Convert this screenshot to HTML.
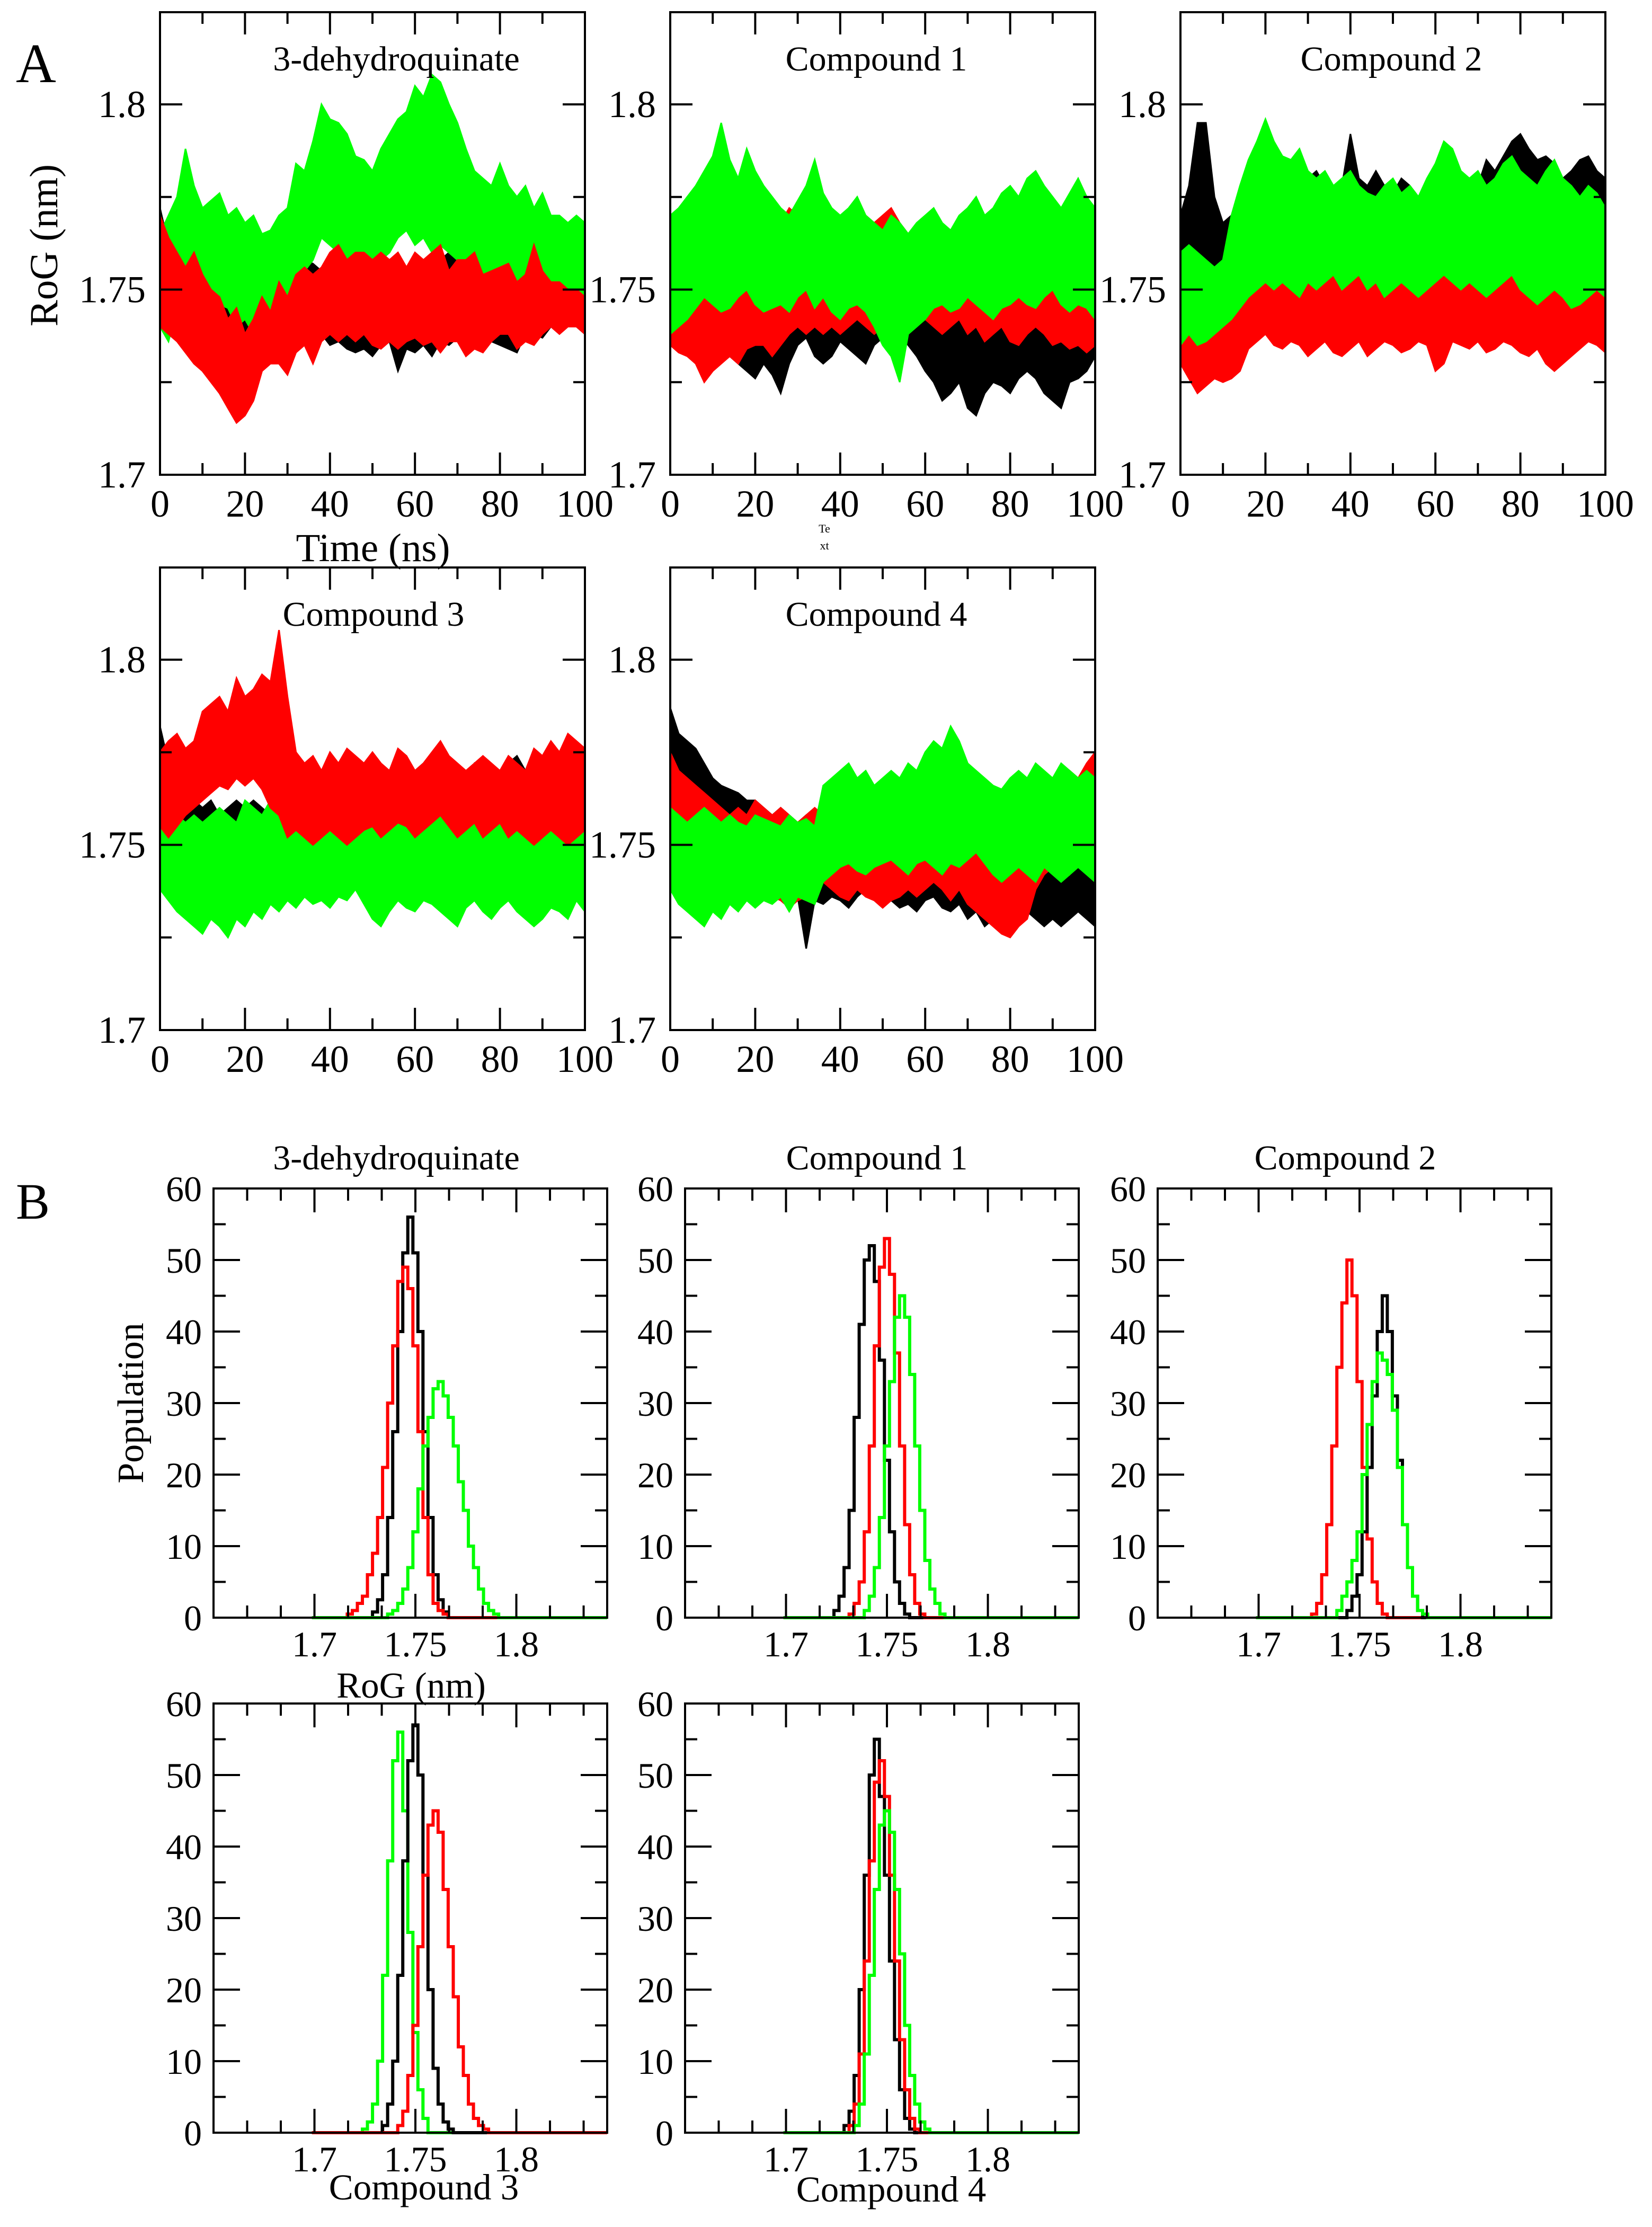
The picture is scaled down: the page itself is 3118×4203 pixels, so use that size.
<!DOCTYPE html>
<html><head><meta charset="utf-8"><style>
html,body{margin:0;padding:0;background:#fff;}
svg{display:block;font-family:"Liberation Serif",serif;}
</style></head><body>
<svg id="fig" xmlns="http://www.w3.org/2000/svg" width="3118" height="4203" viewBox="0 0 3118 4203">
<rect x="0" y="0" width="3118" height="4203" fill="#fff"/>
<text x="30" y="155" font-size="105">A</text>
<text x="30" y="2300" font-size="96">B</text>
<text x="0" y="0" font-size="75" text-anchor="middle" transform="translate(108,463) rotate(-90)">RoG (nm)</text>
<text x="704" y="1059" font-size="75" text-anchor="middle">Time (ns)</text>
<text x="1556" y="1005" font-size="22" text-anchor="middle">Te</text>
<text x="1556" y="1037" font-size="22" text-anchor="middle">xt</text>
<text x="0" y="0" font-size="70" text-anchor="middle" transform="translate(270,2648) rotate(-90)">Population</text>
<text x="776" y="3204" font-size="69" text-anchor="middle">RoG (nm)</text>
<text x="800" y="4151" font-size="69" text-anchor="middle">Compound 3</text>
<text x="1682" y="4155" font-size="69" text-anchor="middle">Compound 4</text>
</svg>
<script>
// ---------- Time-series data (RoG, nm) sampled every 2 ns: upper / lower envelope ----------
const timeNs = [0,2,4,6,8,10,12,14,16,18,20,22,24,26,28,30,32,34,36,38,40,42,44,46,48,50,52,54,56,58,60,62,64,66,68,70,72,74,76,78,80,82,84,86,88,90,92,94,96,98,100];
const xTicksA = [0,20,40,60,80,100];
const yTicksA = ["1.7","1.75","1.8"];
const seriesColors = ["#000000","#ff0000","#00ff00"];

const a1BlackHi=[1.772,1.762,1.760,1.758,1.757,1.760,1.758,1.756,1.764,1.766,1.762,1.762,1.758,1.760,1.758,1.757,1.756,1.758,1.757,1.755,1.756,1.755,1.752,1.754,1.754,1.752,1.753,1.750,1.756,1.753,1.755,1.756,1.757,1.758,1.760,1.762,1.758,1.756,1.760,1.757,1.755,1.752,1.753,1.754,1.750,1.752,1.750,1.749,1.752,1.750,1.748];
const a1BlackLo=[1.742,1.740,1.742,1.745,1.742,1.740,1.742,1.743,1.740,1.738,1.736,1.738,1.742,1.740,1.738,1.740,1.737,1.738,1.736,1.738,1.735,1.736,1.734,1.733,1.734,1.732,1.735,1.736,1.728,1.734,1.733,1.735,1.732,1.736,1.735,1.737,1.733,1.734,1.735,1.736,1.735,1.734,1.733,1.738,1.738,1.737,1.740,1.739,1.742,1.740,1.738];
const a1RedHi=[1.770,1.764,1.760,1.756,1.760,1.754,1.750,1.748,1.742,1.745,1.738,1.742,1.748,1.744,1.752,1.748,1.754,1.756,1.754,1.756,1.760,1.762,1.758,1.760,1.760,1.758,1.760,1.758,1.760,1.756,1.760,1.758,1.760,1.762,1.755,1.758,1.758,1.760,1.754,1.755,1.756,1.757,1.752,1.754,1.762,1.755,1.752,1.752,1.750,1.750,1.748];
const a1RedLo=[1.740,1.738,1.736,1.733,1.730,1.728,1.725,1.722,1.718,1.714,1.716,1.720,1.728,1.730,1.730,1.727,1.733,1.735,1.730,1.736,1.738,1.736,1.738,1.736,1.738,1.735,1.734,1.736,1.734,1.736,1.737,1.735,1.736,1.733,1.736,1.736,1.732,1.734,1.733,1.736,1.738,1.738,1.734,1.736,1.735,1.738,1.740,1.738,1.740,1.740,1.738];
const a1GreenHi=[1.765,1.770,1.775,1.788,1.778,1.772,1.774,1.776,1.770,1.772,1.768,1.770,1.765,1.766,1.770,1.772,1.784,1.782,1.790,1.800,1.796,1.795,1.792,1.786,1.785,1.782,1.788,1.792,1.796,1.798,1.805,1.802,1.808,1.806,1.800,1.795,1.788,1.782,1.780,1.778,1.784,1.778,1.775,1.778,1.772,1.776,1.770,1.770,1.768,1.770,1.768];
const a1GreenLo=[1.740,1.736,1.745,1.748,1.748,1.744,1.742,1.746,1.745,1.740,1.742,1.738,1.742,1.737,1.740,1.748,1.752,1.755,1.758,1.764,1.762,1.760,1.758,1.756,1.754,1.756,1.758,1.760,1.764,1.766,1.762,1.764,1.760,1.762,1.760,1.758,1.755,1.752,1.754,1.752,1.750,1.748,1.748,1.750,1.748,1.750,1.748,1.746,1.748,1.748,1.746];

const a2BlackHi=[1.768,1.760,1.755,1.758,1.760,1.758,1.756,1.755,1.752,1.754,1.754,1.752,1.750,1.752,1.748,1.748,1.750,1.752,1.752,1.748,1.750,1.754,1.752,1.750,1.752,1.755,1.758,1.755,1.752,1.750,1.752,1.750,1.748,1.748,1.746,1.745,1.748,1.746,1.745,1.748,1.745,1.748,1.744,1.745,1.748,1.746,1.745,1.748,1.746,1.744,1.745];
const a2BlackLo=[1.735,1.735,1.738,1.736,1.735,1.735,1.733,1.732,1.730,1.728,1.726,1.730,1.727,1.722,1.730,1.735,1.737,1.732,1.730,1.732,1.736,1.734,1.732,1.730,1.735,1.737,1.740,1.738,1.735,1.732,1.728,1.725,1.720,1.722,1.725,1.718,1.716,1.722,1.725,1.724,1.722,1.726,1.728,1.726,1.722,1.720,1.718,1.725,1.726,1.728,1.732];
const a2RedHi=[1.762,1.758,1.756,1.760,1.758,1.765,1.762,1.760,1.758,1.756,1.758,1.762,1.765,1.768,1.772,1.770,1.768,1.765,1.766,1.768,1.764,1.762,1.765,1.770,1.768,1.770,1.772,1.768,1.765,1.762,1.760,1.758,1.760,1.758,1.762,1.760,1.760,1.758,1.762,1.764,1.760,1.762,1.758,1.760,1.765,1.760,1.758,1.760,1.758,1.756,1.755];
const a2RedLo=[1.735,1.733,1.732,1.730,1.725,1.728,1.730,1.732,1.730,1.734,1.735,1.735,1.732,1.735,1.738,1.740,1.738,1.740,1.738,1.740,1.738,1.740,1.742,1.740,1.738,1.740,1.748,1.750,1.748,1.745,1.742,1.740,1.738,1.740,1.742,1.738,1.740,1.736,1.738,1.740,1.736,1.735,1.738,1.740,1.738,1.735,1.736,1.734,1.735,1.733,1.735];
const a2GreenHi=[1.770,1.772,1.775,1.778,1.782,1.786,1.795,1.785,1.780,1.788,1.782,1.778,1.775,1.772,1.770,1.774,1.778,1.785,1.776,1.772,1.770,1.772,1.775,1.770,1.768,1.766,1.770,1.768,1.765,1.768,1.770,1.772,1.768,1.766,1.770,1.772,1.775,1.770,1.772,1.776,1.778,1.775,1.780,1.782,1.778,1.775,1.772,1.776,1.780,1.775,1.772];
const a2GreenLo=[1.738,1.740,1.742,1.745,1.748,1.746,1.744,1.745,1.748,1.750,1.746,1.744,1.745,1.746,1.744,1.748,1.750,1.745,1.748,1.744,1.742,1.745,1.746,1.744,1.740,1.735,1.732,1.725,1.738,1.740,1.742,1.745,1.746,1.744,1.745,1.748,1.746,1.744,1.742,1.745,1.746,1.748,1.746,1.745,1.748,1.750,1.746,1.744,1.746,1.745,1.742];

const a3BlackHi=[1.770,1.778,1.795,1.795,1.775,1.768,1.770,1.762,1.768,1.770,1.772,1.780,1.778,1.775,1.776,1.780,1.782,1.778,1.776,1.778,1.792,1.780,1.778,1.782,1.778,1.776,1.780,1.778,1.775,1.778,1.776,1.780,1.782,1.778,1.780,1.778,1.785,1.782,1.786,1.790,1.792,1.788,1.785,1.786,1.784,1.780,1.782,1.785,1.786,1.782,1.780];
const a3BlackLo=[1.748,1.752,1.760,1.755,1.752,1.750,1.748,1.745,1.742,1.740,1.745,1.748,1.750,1.752,1.750,1.754,1.752,1.755,1.756,1.754,1.758,1.756,1.755,1.754,1.752,1.755,1.756,1.754,1.752,1.755,1.756,1.758,1.755,1.754,1.756,1.758,1.760,1.758,1.762,1.764,1.762,1.758,1.756,1.760,1.762,1.758,1.760,1.762,1.764,1.760,1.758];
const a3RedHi=[1.748,1.745,1.742,1.745,1.748,1.746,1.748,1.752,1.755,1.758,1.760,1.762,1.758,1.760,1.758,1.756,1.758,1.760,1.758,1.756,1.755,1.758,1.757,1.760,1.758,1.756,1.755,1.758,1.760,1.758,1.762,1.765,1.768,1.760,1.758,1.756,1.758,1.760,1.757,1.758,1.756,1.758,1.756,1.754,1.755,1.760,1.765,1.760,1.758,1.756,1.752];
const a3RedLo=[1.730,1.726,1.722,1.724,1.726,1.725,1.726,1.728,1.734,1.736,1.738,1.735,1.734,1.736,1.735,1.732,1.734,1.736,1.733,1.732,1.734,1.736,1.732,1.734,1.736,1.735,1.733,1.734,1.736,1.735,1.728,1.730,1.736,1.735,1.734,1.736,1.733,1.734,1.736,1.735,1.733,1.732,1.734,1.730,1.728,1.730,1.732,1.734,1.736,1.735,1.733];
const a3GreenHi=[1.760,1.762,1.760,1.758,1.756,1.758,1.770,1.778,1.785,1.790,1.796,1.790,1.786,1.785,1.788,1.782,1.780,1.782,1.778,1.780,1.782,1.778,1.776,1.775,1.778,1.780,1.776,1.778,1.775,1.780,1.784,1.790,1.788,1.782,1.780,1.782,1.778,1.780,1.784,1.786,1.782,1.780,1.778,1.782,1.785,1.780,1.778,1.775,1.778,1.776,1.772];
const a3GreenLo=[1.735,1.738,1.735,1.736,1.738,1.740,1.742,1.745,1.748,1.750,1.752,1.750,1.752,1.750,1.748,1.752,1.750,1.752,1.754,1.750,1.752,1.754,1.750,1.752,1.748,1.750,1.752,1.750,1.748,1.750,1.752,1.754,1.752,1.750,1.752,1.750,1.748,1.750,1.752,1.754,1.750,1.748,1.746,1.748,1.750,1.748,1.745,1.746,1.748,1.750,1.748];

const a4BlackHi=[1.782,1.772,1.768,1.765,1.762,1.760,1.762,1.758,1.760,1.762,1.760,1.762,1.760,1.758,1.762,1.760,1.758,1.760,1.762,1.764,1.762,1.760,1.765,1.768,1.766,1.765,1.768,1.770,1.766,1.768,1.770,1.772,1.768,1.770,1.772,1.770,1.768,1.772,1.770,1.768,1.770,1.772,1.774,1.770,1.768,1.772,1.770,1.772,1.774,1.772,1.770];
const a4BlackLo=[1.750,1.752,1.748,1.746,1.745,1.744,1.742,1.745,1.744,1.742,1.745,1.748,1.750,1.746,1.745,1.742,1.740,1.742,1.744,1.742,1.740,1.742,1.744,1.742,1.745,1.748,1.746,1.744,1.745,1.748,1.750,1.752,1.748,1.746,1.748,1.750,1.752,1.748,1.750,1.752,1.750,1.748,1.750,1.752,1.754,1.750,1.752,1.750,1.752,1.754,1.750];
const a4RedHi=[1.775,1.778,1.780,1.776,1.778,1.786,1.788,1.790,1.786,1.795,1.790,1.792,1.796,1.794,1.808,1.790,1.775,1.772,1.774,1.770,1.775,1.772,1.776,1.774,1.772,1.775,1.772,1.770,1.776,1.774,1.770,1.772,1.775,1.778,1.774,1.772,1.770,1.772,1.774,1.772,1.770,1.774,1.772,1.770,1.776,1.774,1.778,1.775,1.780,1.778,1.776];
const a4RedLo=[1.755,1.752,1.755,1.758,1.760,1.762,1.764,1.766,1.765,1.768,1.766,1.768,1.765,1.760,1.758,1.752,1.754,1.752,1.750,1.752,1.754,1.752,1.750,1.752,1.754,1.755,1.752,1.754,1.756,1.755,1.752,1.754,1.756,1.758,1.755,1.752,1.754,1.756,1.752,1.754,1.756,1.752,1.754,1.752,1.750,1.752,1.754,1.752,1.750,1.752,1.754];
const a4GreenHi=[1.762,1.760,1.758,1.756,1.758,1.756,1.758,1.760,1.758,1.756,1.762,1.760,1.758,1.762,1.760,1.758,1.756,1.755,1.758,1.756,1.757,1.755,1.758,1.760,1.758,1.762,1.760,1.758,1.762,1.760,1.758,1.756,1.758,1.760,1.757,1.756,1.758,1.760,1.762,1.758,1.760,1.762,1.758,1.756,1.758,1.760,1.758,1.756,1.758,1.757,1.756];
const a4GreenLo=[1.738,1.735,1.732,1.730,1.728,1.726,1.730,1.728,1.725,1.730,1.728,1.732,1.730,1.734,1.732,1.735,1.733,1.736,1.734,1.735,1.733,1.736,1.735,1.738,1.734,1.730,1.728,1.732,1.735,1.733,1.732,1.735,1.734,1.732,1.730,1.728,1.733,1.735,1.732,1.730,1.733,1.735,1.732,1.730,1.728,1.730,1.733,1.732,1.730,1.735,1.732];

const a5BlackHi=[1.787,1.780,1.778,1.776,1.772,1.768,1.766,1.765,1.764,1.762,1.762,1.760,1.758,1.760,1.758,1.756,1.758,1.754,1.752,1.750,1.752,1.750,1.752,1.750,1.752,1.748,1.750,1.752,1.750,1.748,1.750,1.752,1.748,1.750,1.755,1.752,1.750,1.748,1.752,1.750,1.748,1.746,1.748,1.750,1.746,1.745,1.744,1.746,1.745,1.742,1.744];
const a5BlackLo=[1.760,1.762,1.758,1.755,1.752,1.750,1.748,1.746,1.745,1.744,1.742,1.740,1.740,1.738,1.735,1.736,1.722,1.735,1.734,1.736,1.735,1.733,1.736,1.738,1.736,1.734,1.735,1.733,1.734,1.732,1.735,1.736,1.733,1.732,1.734,1.730,1.732,1.728,1.730,1.732,1.733,1.734,1.732,1.730,1.728,1.730,1.728,1.730,1.732,1.730,1.728];
const a5RedHi=[1.775,1.770,1.768,1.766,1.764,1.762,1.760,1.758,1.760,1.758,1.762,1.760,1.758,1.760,1.758,1.756,1.758,1.760,1.758,1.762,1.760,1.758,1.760,1.758,1.760,1.758,1.756,1.758,1.760,1.758,1.756,1.758,1.760,1.758,1.762,1.764,1.760,1.758,1.756,1.755,1.752,1.756,1.760,1.758,1.765,1.768,1.766,1.770,1.768,1.772,1.775];
const a5RedLo=[1.748,1.745,1.746,1.744,1.742,1.740,1.738,1.740,1.738,1.736,1.735,1.738,1.736,1.735,1.733,1.735,1.736,1.738,1.740,1.738,1.736,1.735,1.738,1.736,1.735,1.733,1.735,1.736,1.738,1.736,1.738,1.740,1.738,1.735,1.738,1.734,1.732,1.730,1.728,1.726,1.725,1.728,1.730,1.738,1.742,1.744,1.745,1.742,1.745,1.746,1.748];
const a5GreenHi=[1.760,1.758,1.756,1.758,1.760,1.758,1.756,1.758,1.756,1.755,1.758,1.757,1.756,1.755,1.758,1.756,1.757,1.755,1.766,1.768,1.770,1.772,1.768,1.770,1.766,1.768,1.770,1.768,1.772,1.770,1.775,1.778,1.776,1.782,1.778,1.772,1.770,1.768,1.766,1.765,1.768,1.770,1.768,1.772,1.770,1.768,1.772,1.770,1.768,1.770,1.768];
const a5GreenLo=[1.738,1.734,1.732,1.730,1.728,1.732,1.730,1.734,1.732,1.735,1.733,1.735,1.734,1.736,1.732,1.736,1.735,1.734,1.740,1.742,1.744,1.745,1.743,1.742,1.744,1.745,1.746,1.744,1.742,1.745,1.746,1.744,1.742,1.745,1.744,1.746,1.748,1.745,1.742,1.740,1.742,1.744,1.742,1.740,1.744,1.742,1.740,1.742,1.744,1.742,1.740];

// ---------- Histogram data: bin i covers RoG centre binStart + i*binWidth ----------
const binStart = 1.700;
const binWidth = 0.0025;
const xTicksB = ["1.7","1.75","1.8"];
const yTicksB = [0,10,20,30,40,50,60];
const b1Black=[0,0,0,0,0,0,0,0,0,0,0,0,0.8,2.5,6,14,26,40,51,56,51,40,26,14,6,2.5,0.8,0,0,0,0,0,0,0,0,0,0,0,0,0,0,0,0,0,0];
const b1Red=[0,0,0,0,0,0,0,0.5,1,2,3,6,9,14,21,30,38,47,49,46,38,26,14,6,2,1,0.5,0,0,0,0,0,0,0,0,0,0,0,0,0,0,0,0,0,0];
const b1Green=[0,0,0,0,0,0,0,0,0,0,0,0,0,0,0,0.5,1,2,4,7,12,18,24,28,32,33,31,28,24,19,15,10,7,4,2,1,0.5,0,0,0,0,0,0,0,0];
const b2Black=[0,0,0,0,0,0,0,0,0,0,1,3,7,15,28,41,50,52,47,36,22,12,5,2,0.5,0,0,0,0,0,0,0,0,0,0,0,0,0,0,0,0,0,0,0,0];
const b2Red=[0,0,0,0,0,0,0,0,0,0,0,0,0,0.5,2,5,12,24,38,49,53,48,37,24,13,6,2,0.5,0,0,0,0,0,0,0,0,0,0,0,0,0,0,0,0,0];
const b2Green=[0,0,0,0,0,0,0,0,0,0,0,0,0,0,0,0,1,3,7,14,24,33,42,45,42,34,24,15,8,4,2,0.5,0,0,0,0,0,0,0,0,0,0,0,0,0];
const b3Red=[0,0,0,0,0,0,0,0,0,0,0,0.5,2,6,13,24,35,44,50,45,33,21,11,5,2,0.5,0,0,0,0,0,0,0,0,0,0,0,0,0,0,0,0,0,0,0];
const b3Black=[0,0,0,0,0,0,0,0,0,0,0,0,0,0,0,0,0,0,1,3,6,12,21,31,40,45,40,31,22,13,7,3,1,0,0,0,0,0,0,0,0,0,0,0,0];
const b3Green=[0,0,0,0,0,0,0,0,0,0,0,0,0,0,0,0,1,3,5,8,12,20,27,33,37,36,34,29,21,13,7,3,1,0.5,0,0,0,0,0,0,0,0,0,0,0];
const b4Green=[0,0,0,0,0,0,0,0,0,0,0.5,1.5,4,10,22,38,52,56,45,28,14,6,2,0,0,0,0,0,0,0,0,0,0,0,0,0,0,0,0,0,0,0,0,0,0];
const b4Black=[0,0,0,0,0,0,0,0,0,0,0,0,0,0,1,4,10,22,38,52,57,50,36,20,9,4,1.5,0.5,0,0,0,0,0,0,0,0,0,0,0,0,0,0,0,0,0];
const b4Red=[0,0,0,0,0,0,0,0,0,0,0,0,0,0,0,0,0,1,3,8,15,26,36,43,45,42,34,26,19,12,8,4,2,1,0.5,0,0,0,0,0,0,0,0,0,0];
const b5Black=[0,0,0,0,0,0,0,0,0,0,0,0,1,3,8,20,36,50,55,47,36,24,13,6,2,0.5,0,0,0,0,0,0,0,0,0,0,0,0,0,0,0,0,0,0,0];
const b5Red=[0,0,0,0,0,0,0,0,0,0,0,0,0,1,4,11,24,38,49,52,47,36,24,13,6,2,0.5,0,0,0,0,0,0,0,0,0,0,0,0,0,0,0,0,0,0];
const b5Green=[0,0,0,0,0,0,0,0,0,0,0,0,0,0,1,4,11,22,34,43,45,42,34,25,15,8,4,1.5,0.5,0,0,0,0,0,0,0,0,0,0,0,0,0,0,0,0];

const NS="http://www.w3.org/2000/svg";
const svg=document.getElementById('fig');
function mk(tag,attrs,parent){const e=document.createElementNS(NS,tag);for(const k in attrs)e.setAttribute(k,attrs[k]);(parent||svg).appendChild(e);return e;}

// ---------- Panel A ----------
const panelsA=[
 {name:'3-dehydroquinate',x:302,y:23,tx:748,s:[[a1BlackHi,a1BlackLo,0],[a1GreenHi,a1GreenLo,2],[a1RedHi,a1RedLo,1]]},
 {name:'Compound 1',x:1265,y:23,tx:1654,s:[[a2BlackHi,a2BlackLo,0],[a2RedHi,a2RedLo,1],[a2GreenHi,a2GreenLo,2]]},
 {name:'Compound 2',x:2228,y:23,tx:2626,s:[[a3BlackHi,a3BlackLo,0],[a3RedHi,a3RedLo,1],[a3GreenHi,a3GreenLo,2]]},
 {name:'Compound 3',x:302,y:1071,tx:705,s:[[a4BlackHi,a4BlackLo,0],[a4GreenHi,a4GreenLo,2],[a4RedHi,a4RedLo,1]]},
 {name:'Compound 4',x:1265,y:1071,tx:1654,s:[[a5BlackHi,a5BlackLo,0],[a5RedHi,a5RedLo,1],[a5GreenHi,a5GreenLo,2]]}
];
const AW=802, AH=873, AY0=1.7, AY1=1.7+AH/699*0.1;
panelsA.forEach((p,pi)=>{
  const g=mk('g',{});
  
  
  const sx=v=>p.x+v/100*AW, sy=v=>p.y+AH-(v-AY0)/(AY1-AY0)*AH;
  const cid='clipA'+pi;
  const cp=mk('clipPath',{id:cid},g); mk('rect',{x:p.x,y:p.y,width:AW,height:AH},cp);
  const names=['black','red','green'];
  p.s.forEach(trip=>{
    const hi=trip[0], lo=trip[1], ci=trip[2];
    let pts=[];
    timeNs.forEach((t,i)=>pts.push(sx(t).toFixed(1)+','+sy(hi[i]).toFixed(1)));
    for(let i=timeNs.length-1;i>=0;i--) pts.push(sx(timeNs[i]).toFixed(1)+','+sy(lo[i]).toFixed(1));
    const poly=mk('polygon',{points:pts.join(' '),fill:seriesColors[ci],stroke:seriesColors[ci],'stroke-width':3,'stroke-linejoin':'miter','clip-path':'url(#'+cid+')'},g);
    
    
  });
  mk('rect',{x:p.x,y:p.y,width:AW,height:AH,fill:'none',stroke:'#000','stroke-width':4},g);
  for(let t=0;t<=100;t+=10){
    const L=(t%20===0)?42:22, X=sx(t);
    mk('line',{x1:X,y1:p.y+AH,x2:X,y2:p.y+AH-L,stroke:'#000','stroke-width':4},g);
    mk('line',{x1:X,y1:p.y,x2:X,y2:p.y+L,stroke:'#000','stroke-width':4},g);
  }
  [1.725,1.75,1.775,1.8].forEach(v=>{
    const L=(Math.abs(v-1.75)<1e-9||Math.abs(v-1.8)<1e-9)?42:22, Y=sy(v);
    mk('line',{x1:p.x,y1:Y,x2:p.x+L,y2:Y,stroke:'#000','stroke-width':4},g);
    mk('line',{x1:p.x+AW,y1:Y,x2:p.x+AW-L,y2:Y,stroke:'#000','stroke-width':4},g);
  });
  xTicksA.forEach(t=>{
    const e=mk('text',{x:sx(t),y:p.y+AH+79,'font-size':72,'text-anchor':'middle'},g);
    
    
    e.textContent=t;
  });
  yTicksA.forEach(t=>{
    const e=mk('text',{x:p.x-27,y:sy(parseFloat(t))+24,'font-size':72,'text-anchor':'end'},g);
    
    
    e.textContent=t;
  });
  const ti=mk('text',{x:p.tx,y:p.y+110,'font-size':66,'text-anchor':'middle'},g);
  
  
  ti.textContent=p.name;
});

// ---------- Panel B ----------
const panelsB=[
 {name:'3-dehydroquinate',x:403,y:2243,tx:748,s:[[b1Black,0],[b1Red,1],[b1Green,2]]},
 {name:'Compound 1',x:1293,y:2243,tx:1655,s:[[b2Black,0],[b2Red,1],[b2Green,2]]},
 {name:'Compound 2',x:2185,y:2243,tx:2539,s:[[b3Red,1],[b3Black,0],[b3Green,2]]},
 {name:'',x:403,y:3215,tx:0,s:[[b4Green,2],[b4Black,0],[b4Red,1]]},
 {name:'',x:1293,y:3215,tx:0,s:[[b5Black,0],[b5Red,1],[b5Green,2]]}
];
const BW=743, BH=810, BX0=1.65, BX1=1.845;
panelsB.forEach((p,pi)=>{
  const g=mk('g',{});
  
  
  const sx=v=>p.x+(v-BX0)/(BX1-BX0)*BW, sy=v=>p.y+BH-v/60*BH;
  const names=['black','red','green'];
  p.s.forEach(pair=>{
    const arr=pair[0], ci=pair[1];
    let d='M'+sx(binStart-binWidth/2).toFixed(1)+','+sy(0).toFixed(1);
    arr.forEach((v,i)=>{
      const c=binStart+i*binWidth;
      d+=' L'+sx(c-binWidth/2).toFixed(1)+','+sy(v).toFixed(1)+' L'+sx(c+binWidth/2).toFixed(1)+','+sy(v).toFixed(1);
    });
    d+=' L'+(p.x+BW)+','+sy(0).toFixed(1);
    const path=mk('path',{d:d,fill:'none',stroke:seriesColors[ci],'stroke-width':6,'stroke-linejoin':'miter'},g);
    
    
  });
  mk('rect',{x:p.x,y:p.y,width:BW,height:BH,fill:'none',stroke:'#000','stroke-width':4},g);
  for(let k=0;k<=11;k++){
    const v=BX0+k*0.05/3, X=sx(v), L=(k%3===0&&k>0)?45:23;
    if(X>p.x+BW-2||k===0) continue;
    mk('line',{x1:X,y1:p.y+BH,x2:X,y2:p.y+BH-L,stroke:'#000','stroke-width':4},g);
    mk('line',{x1:X,y1:p.y,x2:X,y2:p.y+L,stroke:'#000','stroke-width':4},g);
  }
  for(let v=5;v<60;v+=5){
    const L=(v%10===0)?50:23, Y=sy(v);
    mk('line',{x1:p.x,y1:Y,x2:p.x+L,y2:Y,stroke:'#000','stroke-width':4},g);
    mk('line',{x1:p.x+BW,y1:Y,x2:p.x+BW-L,y2:Y,stroke:'#000','stroke-width':4},g);
  }
  xTicksB.forEach(t=>{
    const e=mk('text',{x:sx(parseFloat(t)),y:p.y+BH+73,'font-size':68,'text-anchor':'middle'},g);
    
    
    e.textContent=t;
  });
  yTicksB.forEach(t=>{
    const e=mk('text',{x:p.x-22,y:sy(t)+24,'font-size':68,'text-anchor':'end'},g);
    
    
    e.textContent=t;
  });
  if(p.name){
    const ti=mk('text',{x:p.tx,y:p.y-36,'font-size':66,'text-anchor':'middle'},g);
    
    
    ti.textContent=p.name;
  }
});
</script>
</body></html>
